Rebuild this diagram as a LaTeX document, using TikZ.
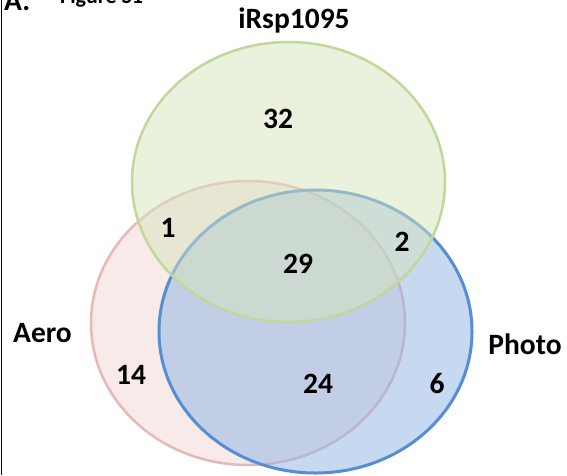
\documentclass[tikz,border=0pt]{standalone}
\usepackage{fontspec}
\setmainfont{Carlito}
\definecolor{pinkfill}{HTML}{F2DCDB}
\definecolor{pinkline}{HTML}{E6B9B8}
\definecolor{bluefill}{HTML}{8EB4E3}
\definecolor{blueline}{HTML}{558ED5}
\definecolor{greenfill}{HTML}{D7E4BD}
\definecolor{greenline}{HTML}{C3D69B}
\tikzset{
  lbl/.style={anchor=base, inner sep=0pt, font=\bfseries\fontsize{29.5}{30}\selectfont},
  pinkset/.style={fill=pinkfill, fill opacity=0.6, draw=pinkline, line width=2.5pt},
  blueset/.style={fill=bluefill, fill opacity=0.5, draw=blueline, line width=3pt},
  greenset/.style={fill=greenfill, fill opacity=0.5, draw=greenline, line width=2.5pt},
}
\begin{document}
\begin{tikzpicture}[x=1pt,y=-1pt]
\useasboundingbox (0,0) rectangle (567,475);
\clip (0,0) rectangle (567,475);
\fill[white] (0,0) rectangle (567,475);
% sets
\path[pinkset] (248,323) ellipse [x radius=157pt, y radius=142pt];
\path[blueset] (315.5,331.5) ellipse [x radius=156.5pt, y radius=141.5pt];
\path[greenset] (288.5,182) ellipse [x radius=156.5pt, y radius=140pt];
% left rule
\draw[line width=1.5pt] (1.5,0) coordinate (ruletop) -- (1.5,475) coordinate (rulebot);
% header
\node[lbl, anchor=base west] (panel) at (4,10) {A.};
\node[anchor=base west, inner sep=0pt, font=\bfseries\fontsize{22}{24}\selectfont] (fig) at (60,3) {Figure S1};
% set labels
\node[lbl] (lirsp) at (294,28.3) {iRsp1095};
\node[lbl] (laero) at (42.5,342.7) {Aero};
\node[lbl] (lphoto) at (525,354.3) {Photo};
% counts
\node[lbl] (n32) at (278,128.3) {32};
\node[lbl] (n1) at (168,237.3) {1};
\node[lbl] (n29) at (298,273.3) {29};
\node[lbl] (n2) at (402,251.7) {2};
\node[lbl] (n14) at (131,384) {14};
\node[lbl] (n24) at (318,393.3) {24};
\node[lbl] (n6) at (437,393.3) {6};
\end{tikzpicture}
\end{document}
